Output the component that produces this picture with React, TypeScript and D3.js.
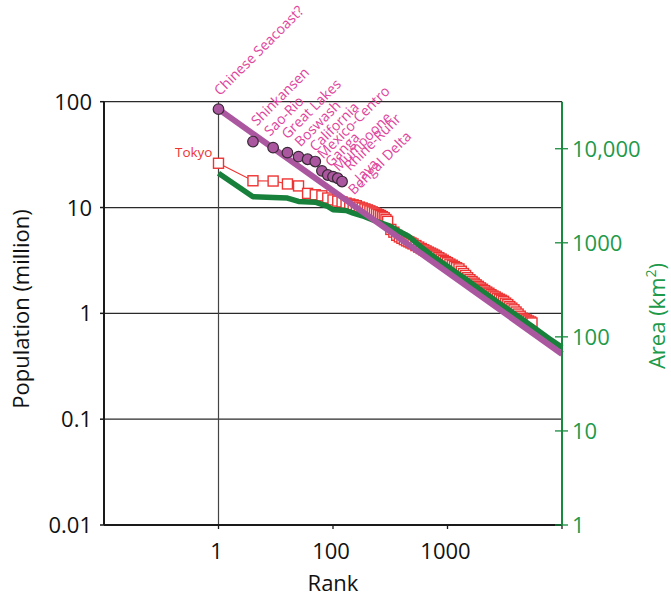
import React from 'react';
import * as d3 from 'd3';

// ---------- data ----------
const megaNames = [
  'Chinese Seacoast?', 'Shinkansen', 'Sao-Rio', 'Great Lakes', 'Boswash', 'California',
  'Mexico-Centro', 'Ganga', 'Mumpoone', 'Rhine-Ruhr', 'Java', 'Bengal Delta',
];
const megaRank = [1, 2, 3, 4, 5, 6, 7, 8, 9, 10, 11, 12];
const megaPop = [85, 42, 36.8, 33, 30.3, 28.6, 27.2, 22.2, 20.3, 19.6, 18.9, 17.6];

const fitRank = [1, 1000];
const fitPop = [85, 0.413];

const cityRank = [
  1, 2, 3, 4, 5, 6, 7, 8, 9, 10, 11, 12, 13, 14, 15, 16, 17, 18, 19, 20,
  21, 22, 23, 24, 25, 26, 27, 28, 29, 30, 32, 34, 36, 38, 40, 42, 44, 46, 48, 50,
  53, 56, 59, 62, 65, 68, 71, 74, 77, 80, 84, 88, 92, 96, 100, 105, 110, 115, 120, 126,
  132, 138, 144, 150, 157, 164, 171, 178, 186, 194, 202, 211, 220, 230, 240, 250, 261, 272, 284, 296,
  309, 322, 336, 350, 365, 381, 397, 414, 432, 450, 469, 489, 510, 532, 547,
];
const cityPop = [
  26.2, 17.9, 17.8, 16.7, 16.0, 13.6, 13.2, 12.9, 12.3, 11.8, 11.5, 11.3, 11.0, 10.8, 10.6, 10.4, 10.1, 9.9, 9.7, 9.5,
  9.3, 9.1, 8.9, 8.7, 8.55, 8.4, 8.2, 8.0, 7.7, 7.4, 6.21, 5.85, 5.46, 5.28, 5.12, 4.97, 4.84, 4.74, 4.63, 4.53,
  4.37, 4.23, 4.1, 3.99, 3.89, 3.79, 3.71, 3.63, 3.55, 3.47, 3.36, 3.26, 3.17, 3.08, 3.01, 2.92, 2.85, 2.77, 2.7, 2.63,
  2.5, 2.38, 2.28, 2.17, 2.08, 2.0, 1.93, 1.86, 1.8, 1.74, 1.69, 1.64, 1.59, 1.55, 1.5, 1.46, 1.43, 1.39, 1.36, 1.33,
  1.3, 1.25, 1.21, 1.16, 1.12, 1.08, 1.03, 0.985, 0.94, 0.9, 0.885, 0.866, 0.847, 0.829, 0.811,
];

const areaRank = [1, 2, 3, 4, 5, 7, 9, 10, 13, 15, 18, 24, 31, 38, 46, 60, 74, 104, 147, 202, 285, 403, 556, 780, 1000];
const areaKm2 = [5490, 3085, 3040, 2990, 2750, 2700, 2433, 2244, 2206, 2070, 1937, 1686, 1517, 1320, 1167, 885, 727, 542, 404, 305, 227, 169, 128, 95.2, 77.3];

const xTickValues = [1, 10, 100, 1000];
const xTickLabels = ['1', '100', '1000', ''];
const yLeftTicks = [0.01, 0.1, 1, 10, 100];
const yLeftLabels = ['0.01', '0.1', '1', '10', '100'];
const yRightTicks = [1, 10, 100, 1000, 10000];
const yRightLabels = ['1', '10', '100', '1000', '10,000'];

// ---------- layout (label nudges, px) ----------
const labelDx = [1.5, 4, -3, 0, 2, 8, 8, 9, 11, 17, 23, 12];
const labelDy = [-13, -15, -11, -13, -9, -7, -2, -3, -3, -5, 5, 14];

const FONT = "'Open Sans', 'Liberation Sans', sans-serif";
const GREEN_AXIS = '#178a3e';
const GREEN_TEXT = '#1e9a4b';
const GREEN_LINE = '#17803b';
const PURPLE = '#ab579f';
const PINK = '#e0449c';
const RED = '#ee3333';

export default function App() {
  const W = 671, H = 598;
  const L = 104, R = 562, T = 101.7, B = 525;
  const x = d3.scaleLog().domain([0.1, 1000]).range([L, R]);
  const yL = d3.scaleLog().domain([0.01, 100]).range([B, T]);
  const yR = d3.scaleLog().domain([1, Math.pow(10, 4.5)]).range([B, T]);

  const popLine = d3.line<number>().x((d, i) => x(cityRank[i])).y((d) => yL(d));
  const fitLine = d3.line<number>().x((d, i) => x(fitRank[i])).y((d) => yL(d));
  const areaLine = d3.line<number>().x((d, i) => x(areaRank[i])).y((d) => yR(d));

  const sq = 10;

  return (
    <svg width={W} height={H} style={{ position: 'absolute', left: 0, top: 0, background: '#fff' }} fontFamily={FONT}>
      <rect x={0} y={0} width={W} height={H} fill="#fff" />
      {/* gridlines */}
      {yLeftTicks.filter((v) => v > 0.01).map((v) => (
        <line key={'g' + v} x1={L} x2={R} y1={yL(v)} y2={yL(v)} stroke="#2a2a2a" strokeWidth={1.2} />
      ))}
      {/* vertical line at rank 1 */}
      <line x1={x(1)} x2={x(1)} y1={T} y2={B} stroke="#444" strokeWidth={1.2} />

      {/* city population */}
      <path d={popLine(cityPop) || ''} fill="none" stroke={RED} strokeWidth={1.2} />
      {cityPop.map((p, i) => (
        <rect key={'c' + i} x={x(cityRank[i]) - sq / 2} y={yL(p) - sq / 2} width={sq} height={sq}
          fill="#fff" stroke={RED} strokeWidth={1.4} />
      ))}

      {/* area series (right axis) */}
      <path d={areaLine(areaKm2) || ''} fill="none" stroke={GREEN_LINE} strokeWidth={5.5} strokeLinejoin="round" />

      {/* fit line */}
      <path d={fitLine(fitPop) || ''} fill="none" stroke={PURPLE} strokeWidth={6} />

      {/* megaregions */}
      {megaPop.map((p, i) => (
        <circle key={'m' + i} cx={x(megaRank[i])} cy={yL(p)} r={5.3} fill={PURPLE} stroke="#3a2a38" strokeWidth={1.2} />
      ))}

      {/* labels */}
      {megaNames.map((n, i) => {
        const lx = x(megaRank[i]) + labelDx[i];
        const ly = yL(megaPop[i]) + labelDy[i];
        return (
          <text key={'l' + i} x={lx} y={ly} transform={`rotate(-45 ${lx} ${ly})`} fontSize={14} fill={PINK}>{n}</text>
        );
      })}
      <text x={x(cityRank[0]) - 6} y={yL(cityPop[0]) - 6} textAnchor="end" fontSize={13.5} fill={RED}>Tokyo</text>

      {/* left axis */}
      <line x1={L} x2={L} y1={T} y2={B} stroke="#1a1a1a" strokeWidth={2} />
      {yLeftTicks.map((v, i) => (
        <g key={'yl' + v}>
          <line x1={L - 4} x2={L} y1={yL(v)} y2={yL(v)} stroke="#1a1a1a" strokeWidth={1.5} />
          <text x={92} y={yL(v) + 8} textAnchor="end" fontSize={22} fill="#111">{yLeftLabels[i]}</text>
        </g>
      ))}
      {/* bottom axis */}
      <line x1={L} x2={R} y1={B} y2={B} stroke="#1a1a1a" strokeWidth={2} />
      {xTickValues.map((v, i) => (
        <g key={'xt' + v}>
          <line x1={x(v)} x2={x(v)} y1={B} y2={B + 4} stroke="#1a1a1a" strokeWidth={1.3} />
          <text x={x(v) - 2} y={559} textAnchor="middle" fontSize={22} fill="#111">{xTickLabels[i]}</text>
        </g>
      ))}
      {/* right axis */}
      <line x1={R} x2={R} y1={T} y2={B} stroke={GREEN_AXIS} strokeWidth={2} />
      {yRightTicks.map((v, i) => (
        <g key={'yr' + v}>
          <line x1={R - 7} x2={R + 6} y1={yR(v)} y2={yR(v)} stroke={GREEN_AXIS} strokeWidth={1.3} />
          <text x={572} y={yR(v) + 8} textAnchor="start" fontSize={22} fill={GREEN_TEXT}>{yRightLabels[i]}</text>
        </g>
      ))}

      {/* titles */}
      <text x={333} y={591} textAnchor="middle" fontSize={22} fill="#111">Rank</text>
      <text transform="translate(29 309) rotate(-90)" textAnchor="middle" fontSize={22} fill="#111">Population (million)</text>
      <text transform="translate(665 316) rotate(-90)" textAnchor="middle" fontSize={22} fill={GREEN_TEXT}>
        Area (km<tspan fontSize={14} dy={-9}>2</tspan><tspan dy={9}>)</tspan>
      </text>
    </svg>
  );
}
